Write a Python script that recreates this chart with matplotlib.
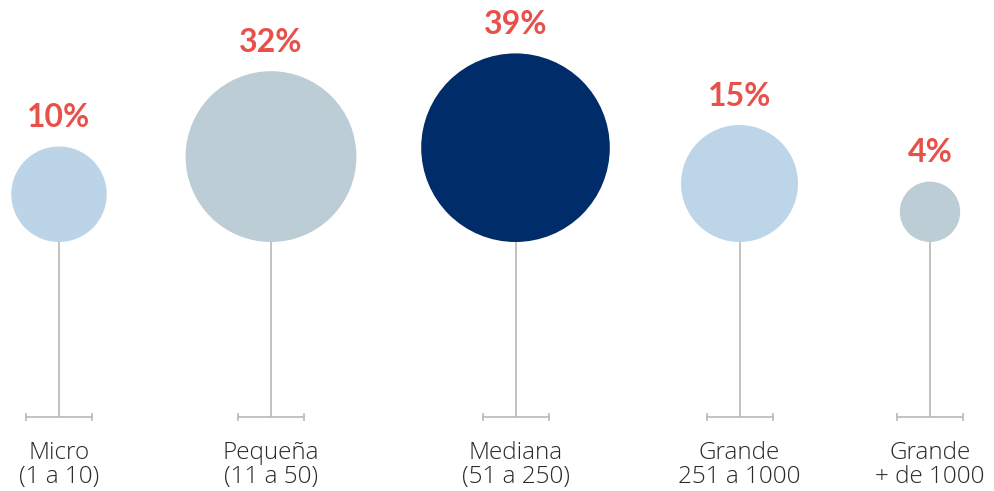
import matplotlib
matplotlib.use("Agg")
import matplotlib.pyplot as plt
from matplotlib.patches import Circle
import numpy as np

categories = ["Micro\n(1 a 10)", "Pequeña\n(11 a 50)", "Mediana\n(51 a 250)", "Grande\n251 a 1000", "Grande\n+ de 1000"]
values = [10, 32, 39, 15, 4]
pct_labels = ["10%", "32%", "39%", "15%", "4%"]
colors = ["#BBD4E8", "#BCCDD6", "#002D6A", "#BCD5E8", "#BCCDD6"]

xpos = [59, 271, 515.5, 739.5, 930]
baseline = 242
stem_bottom = 417
k = 15.1  # radius per sqrt(value)

fig = plt.figure(figsize=(9.94, 4.91), dpi=100)
ax = fig.add_axes([0, 0, 1, 1])
ax.set_xlim(0, 994)
ax.set_ylim(491, 0)
ax.axis("off")

stem_color = "#BDBDBD"
for x, v, lab, pl, c in zip(xpos, values, categories, pct_labels, colors):
    r = k * np.sqrt(v)
    cy = baseline - r
    ax.plot([x, x], [baseline, stem_bottom], color=stem_color, lw=1.3, zorder=1)
    ax.plot([x - 33, x + 33], [stem_bottom, stem_bottom], color=stem_color, lw=1.3, zorder=1)
    for ex in (x - 33, x + 33):
        ax.plot([ex, ex], [stem_bottom - 3, stem_bottom + 3], color=stem_color, lw=1.3, zorder=1)
    ax.add_patch(Circle((x, cy), r, facecolor=c, edgecolor="none", zorder=2))
    ax.text(x, baseline - 2 * r - 29, pl, ha="center", va="center", fontsize=23,
            fontweight="bold", color="#E8504A", family=["Lato", "DejaVu Sans"])
    ax.text(x, 465, lab, ha="center", va="center", fontsize=17.5, fontweight="light",
            color="#2a2a2a", family=["Open Sans", "DejaVu Sans"], linespacing=1.02)

fig.savefig("out.png", dpi=100)
